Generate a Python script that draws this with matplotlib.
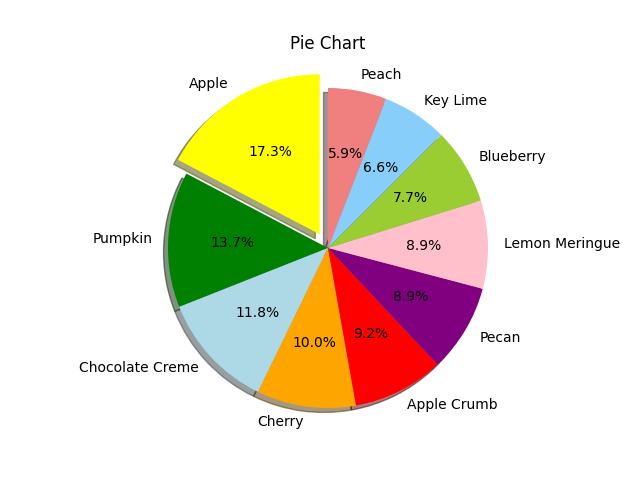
import matplotlib
matplotlib.use("Agg")
from matplotlib import pyplot as plt

labels = ["Apple", "Pumpkin", "Chocolate Creme", "Cherry", "Apple Crumb",
          "Pecan", "Lemon Meringue", "Blueberry", "Key Lime", "Peach"]
shares = [17.3, 13.7, 11.8, 10.0, 9.2, 8.9, 8.9, 7.7, 6.6, 5.9]
colors = ["yellow", "green", "lightblue", "orange", "red",
          "purple", "pink", "yellowgreen", "lightskyblue", "lightcoral"]
explode = [0.1, 0, 0, 0, 0, 0, 0, 0, 0, 0]

fig, ax = plt.subplots(figsize=(6.4, 4.8), dpi=100)
ax.pie(shares, labels=labels, colors=colors, explode=explode,
       autopct="%1.1f%%", shadow=True, startangle=90)
ax.set_xlim(-1.155, 1.155)
ax.set_ylim(-1.12, 1.19)
ax.set_title("Pie Chart")

fig.savefig("out.png")
